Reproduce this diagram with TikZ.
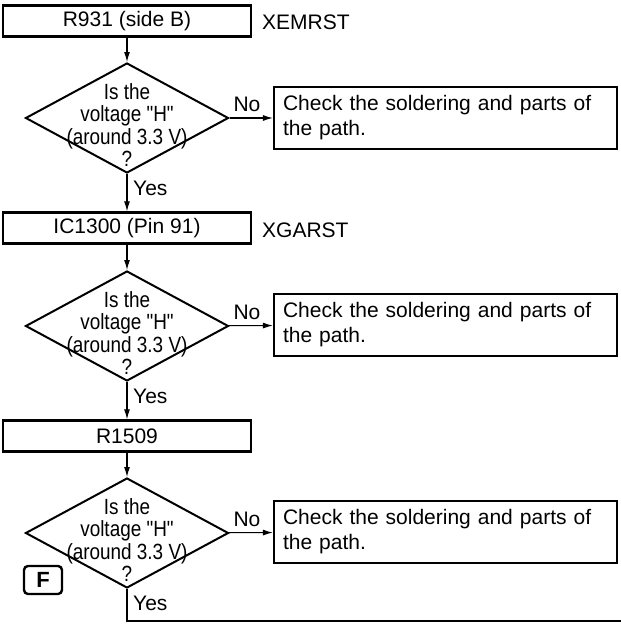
\documentclass[tikz,border=0pt]{standalone}
\usepackage{fontspec}
\setmainfont{Liberation Sans}
\newfontfamily\narrowfont[FakeStretch=0.86]{Liberation Sans}
\usetikzlibrary{shapes.geometric,arrows.meta}
\begin{document}
\begin{tikzpicture}[
  x=1pt,
  y=-1pt,
  font=\fontsize{21}{25}\selectfont,
  stepbox/.style={rectangle,draw=black,line width=2.4pt,minimum width=248pt,minimum height=31pt,inner sep=0pt},
  decision/.style={diamond,draw=black,line width=2pt,minimum width=203pt,minimum height=110pt,inner sep=0pt},
  question/.style={align=center,font=\narrowfont\fontsize{22}{22.5}\selectfont,inner sep=0pt},
  checkbox/.style={rectangle,draw=black,line width=2.2pt,minimum width=343pt,minimum height=62pt,text width=325pt,align=left,inner sep=0pt},
  flow/.style={draw=black,line width=1.1pt,-{Latex[length=10pt,width=6pt]}},
  tag/.style={inner sep=0pt}
]
  \useasboundingbox (0,0) rectangle (621,624);

  \node[stepbox] (s1) at (127,21) {R931 (side B)};
  \node[tag,anchor=west] (n1) at (262,22) {XEMRST};
  \node[decision] (d1) at (127,118) {};
  \node[question] (q1) at (127,125) {Is the\\voltage "H"\\(around 3.3 V)\\?};
  \node[checkbox] (c1) at (445.5,118) {Check the soldering and parts of the path.};
  \node[tag] (no1) at (247,104) {No};
  \node[tag,anchor=west] (yes1) at (133,188) {Yes};
  \draw[flow] (s1) -- (d1);
  \draw[flow] (d1) -- (c1);

  \node[stepbox] (s2) at (127,228) {IC1300 (Pin 91)};
  \node[tag,anchor=west] (n2) at (262,230) {XGARST};
  \node[decision] (d2) at (127,326) {};
  \node[question] (q2) at (127,333) {Is the\\voltage "H"\\(around 3.3 V)\\?};
  \node[checkbox] (c2) at (445.5,325) {Check the soldering and parts of the path.};
  \node[tag] (no2) at (247,312) {No};
  \node[tag,anchor=west] (yes2) at (133,396) {Yes};
  \draw[flow] (d1) -- (s2);
  \draw[flow] (s2) -- (d2);
  \draw[flow] (d2) -- (c2);

  \node[stepbox] (s3) at (127,436) {R1509};
  \node[decision] (d3) at (127,533) {};
  \node[question] (q3) at (127,540) {Is the\\voltage "H"\\(around 3.3 V)\\?};
  \node[checkbox] (c3) at (445.5,532) {Check the soldering and parts of the path.};
  \node[tag] (no3) at (247,519) {No};
  \node[tag,anchor=west] (yes3) at (133,603) {Yes};
  \draw[flow] (d2) -- (s3);
  \draw[flow] (s3) -- (d3);
  \draw[flow] (d3) -- (c3);

  \node[draw=black,line width=2.4pt,rounded corners=4pt,minimum width=38pt,minimum height=28pt,inner sep=0pt,font=\bfseries\fontsize{22}{22}\selectfont] (fmark) at (43,580) {F};
  \coordinate (end3) at (127,621);
  \coordinate (out3) at (621,621);
  \draw[draw=black,line width=1.1pt] (d3) -- (end3) -- (out3);
\end{tikzpicture}
\end{document}
